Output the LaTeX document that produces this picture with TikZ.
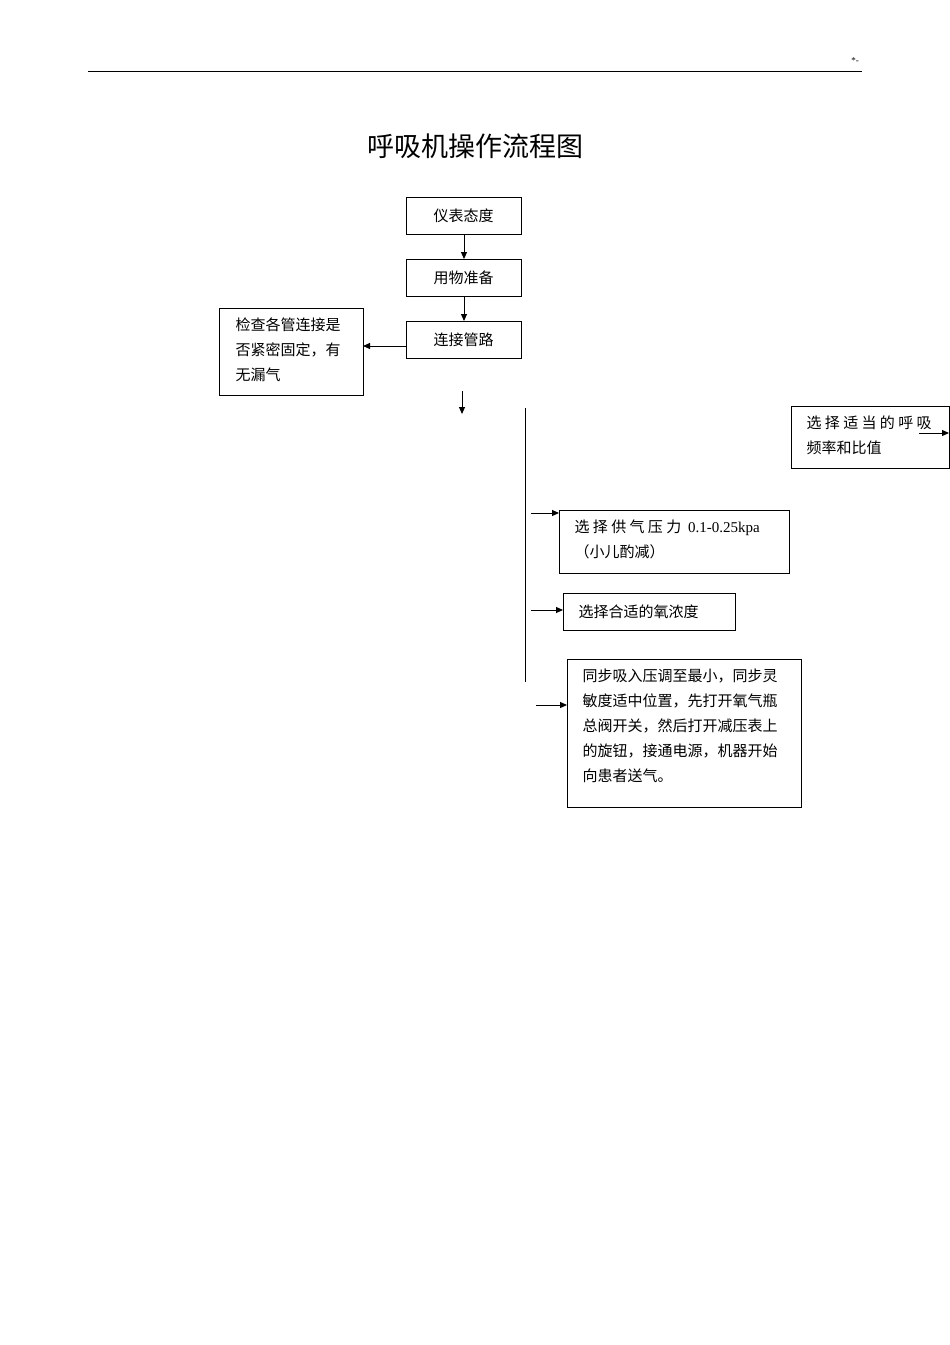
\documentclass[tikz,border=0pt]{standalone}
\usepackage{fontspec}
\setmainfont{Liberation Serif}
\newfontfamily\cjk{Noto Sans CJK SC}
\usetikzlibrary{arrows.meta}
\begin{document}
\begin{tikzpicture}[x=1pt,y=-1pt,
  bx/.style={draw,line width=0.8pt,inner sep=0pt},
  tx/.style={font=\cjk\fontsize{15}{25}\selectfont,align=left,anchor=north west},
  arr/.style={-{Triangle[length=7pt,width=6pt]},line width=1pt}]
\useasboundingbox (0,0) rectangle (950,1345);
\draw[line width=0.6pt] (88,71) -- (862,71);
\node[font=\fontsize{9}{9}\selectfont] (star) at (855,61) {*-};
\node[font=\cjk\fontsize{27}{27}\selectfont] (title) at (475,146) {呼吸机操作流程图};
% boxes
\draw[bx] (406,197) rectangle (521,234);
\node[tx,anchor=center] (a) at (463.5,215.5) {仪表态度};
\draw[bx] (406,259) rectangle (521,296);
\node[tx,anchor=center] (b) at (463.5,277.5) {用物准备};
\draw[bx] (406,321) rectangle (521,358);
\node[tx,anchor=center] (c) at (463.5,339.5) {连接管路};
\draw[bx] (219,308) rectangle (363,395);
\node[tx] (d) at (232,314) {检查各管连接是\\否紧密固定，有\\无漏气};
\draw[bx] (791,406) rectangle (949,468);
\node[tx] (e) at (803,412) {选 择 适 当 的 呼 吸\\频率和比值};
\draw[bx] (559,510) rectangle (789,573);
\node[tx] (f) at (571,516) {选 择 供 气 压 力\ \ {\rmfamily 0.1-0.25kpa}\\（小儿酌减）};
\draw[bx] (563,593) rectangle (735,630);
\node[tx,anchor=west] (g) at (575,611.5) {选择合适的氧浓度};
\draw[bx] (567,659) rectangle (801,807);
\node[tx] (h) at (579,665) {同步吸入压调至最小，同步灵\\敏度适中位置，先打开氧气瓶\\总阀开关，然后打开减压表上\\的旋钮，接通电源，机器开始\\向患者送气。};
% connectors
\coordinate (a1) at (464,234); \coordinate (b0) at (464,259);
\coordinate (b1) at (464,296); \coordinate (c0) at (464,321);
\coordinate (c2) at (406,346); \coordinate (d2) at (363,346);
\draw[arr] (a1) -- (b0);
\draw[arr] (b1) -- (c0);
\draw[arr] (c2) -- (d2);
\coordinate (p1) at (462,391); \coordinate (p2) at (462,414);
\draw[arr] (p1) -- (p2);
\coordinate (v1) at (525,408); \coordinate (v2) at (525,682);
\draw[line width=0.8pt] (v1) -- (v2);
\coordinate (q1) at (919,433); \coordinate (q2) at (949,433);
\draw[arr] (q1) -- (q2);
\coordinate (r1) at (531,513); \coordinate (r2) at (559,513);
\draw[arr] (r1) -- (r2);
\coordinate (s1) at (531,610); \coordinate (s2) at (563,610);
\draw[arr] (s1) -- (s2);
\coordinate (t1) at (536,705); \coordinate (t2) at (567,705);
\draw[arr] (t1) -- (t2);
\end{tikzpicture}
\end{document}
